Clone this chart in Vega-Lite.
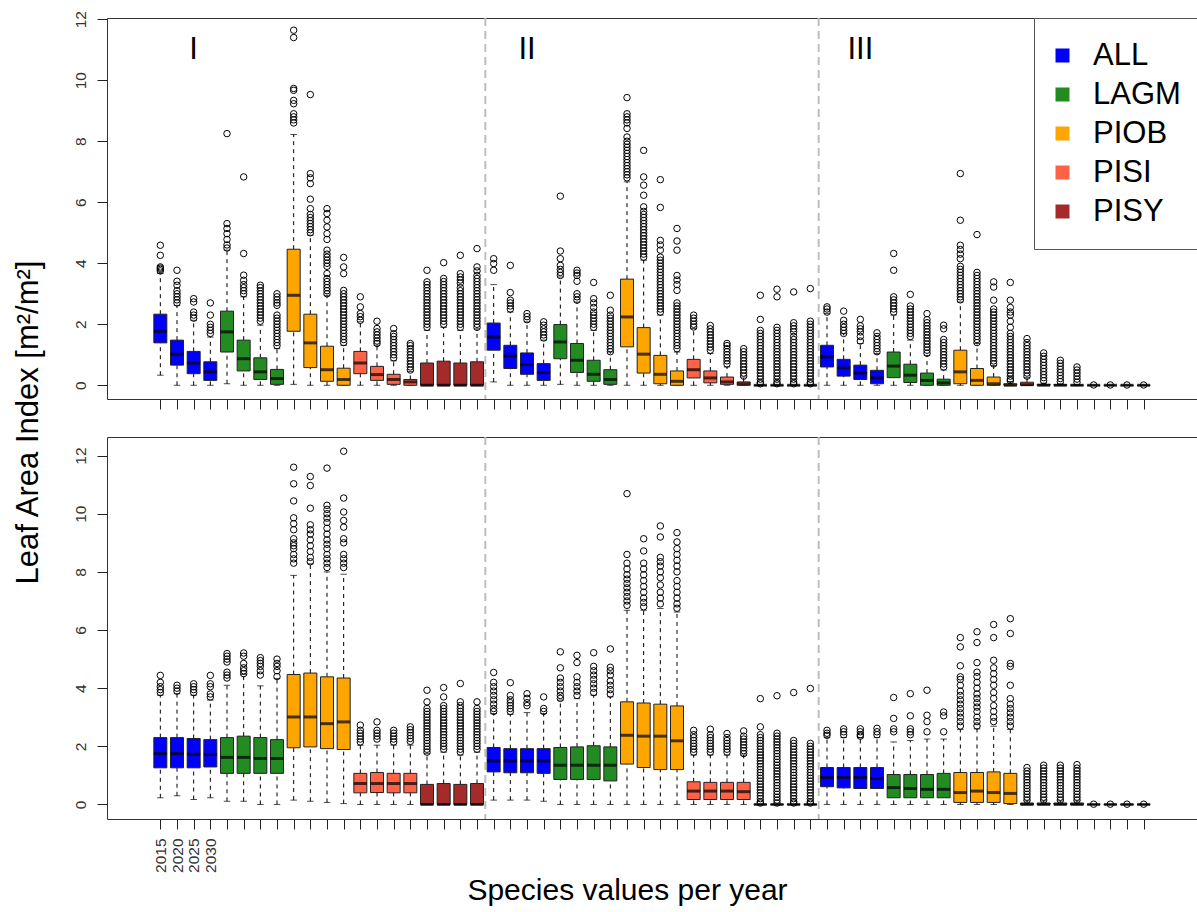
{
"$schema":"https://vega.github.io/schema/vega-lite/v6.json",
"background":"white",
"padding":{"left":11,"top":10,"right":0,"bottom":0},
"bounds":"flush",
"spacing":38,
"config":{"font":"Liberation Sans","view":{"stroke":"#333","strokeWidth":1},
"axis":{"grid":false,"domain":false,"tickColor":"#222","tickSize":10,"labelFont":"Liberation Sans","labelFontSize":15.5,"labelColor":"#333","titleFont":"Liberation Sans","titleFontWeight":"normal","titleColor":"black","labelOverlap":false,"labelFlush":false}},
"resolve":{"scale":{"x":"independent","y":"independent","color":"independent"},"legend":{"color":"independent"}},
"datasets":{
"sep":[{"i":20.5},{"i":40.5}],
"reg":[{"i":3,"y":11,"t":"I"},{"i":23,"y":11,"t":"II"},{"i":43,"y":11,"t":"III"}],
"boxT":[
{"i":1,"s":"ALL","lo":0.33,"q1":1.39,"md":1.77,"q3":2.33,"hi":3.66},
{"i":2,"s":"ALL","lo":0,"q1":0.66,"md":1.02,"q3":1.48,"hi":2.62},
{"i":3,"s":"ALL","lo":0,"q1":0.38,"md":0.73,"q3":1.11,"hi":2.13},
{"i":4,"s":"ALL","lo":0,"q1":0.16,"md":0.44,"q3":0.77,"hi":1.58},
{"i":5,"s":"LAGM","lo":0.05,"q1":1.09,"md":1.75,"q3":2.43,"hi":4.43},
{"i":6,"s":"LAGM","lo":0,"q1":0.47,"md":0.87,"q3":1.48,"hi":2.9},
{"i":7,"s":"LAGM","lo":0,"q1":0.19,"md":0.44,"q3":0.9,"hi":1.97},
{"i":8,"s":"LAGM","lo":0,"q1":0.03,"md":0.22,"q3":0.52,"hi":1.2},
{"i":9,"s":"PIOB","lo":0.03,"q1":1.77,"md":2.95,"q3":4.46,"hi":8.22},
{"i":10,"s":"PIOB","lo":0,"q1":0.58,"md":1.39,"q3":2.33,"hi":4.92},
{"i":11,"s":"PIOB","lo":0,"q1":0.13,"md":0.51,"q3":1.28,"hi":2.95},
{"i":12,"s":"PIOB","lo":0,"q1":0,"md":0.19,"q3":0.56,"hi":1.31},
{"i":13,"s":"PISI","lo":0,"q1":0.38,"md":0.73,"q3":1.11,"hi":2.08},
{"i":14,"s":"PISI","lo":0,"q1":0.16,"md":0.35,"q3":0.62,"hi":1.31},
{"i":15,"s":"PISI","lo":0,"q1":0.03,"md":0.19,"q3":0.36,"hi":0.8},
{"i":16,"s":"PISI","lo":0,"q1":0,"md":0.11,"q3":0.19,"hi":0.45},
{"i":17,"s":"PISY","lo":0,"q1":0,"md":0,"q3":0.73,"hi":1.8},
{"i":18,"s":"PISY","lo":0,"q1":0,"md":0,"q3":0.79,"hi":1.9},
{"i":19,"s":"PISY","lo":0,"q1":0,"md":0,"q3":0.73,"hi":1.8},
{"i":20,"s":"PISY","lo":0,"q1":0,"md":0,"q3":0.77,"hi":1.85},
{"i":21,"s":"ALL","lo":0.11,"q1":1.15,"md":1.58,"q3":2.04,"hi":3.3},
{"i":22,"s":"ALL","lo":0,"q1":0.55,"md":0.96,"q3":1.31,"hi":2.4},
{"i":23,"s":"ALL","lo":0,"q1":0.36,"md":0.68,"q3":1.06,"hi":2.08},
{"i":24,"s":"ALL","lo":0,"q1":0.16,"md":0.42,"q3":0.71,"hi":1.48},
{"i":25,"s":"LAGM","lo":0.03,"q1":0.87,"md":1.42,"q3":1.99,"hi":3.55},
{"i":26,"s":"LAGM","lo":0,"q1":0.42,"md":0.82,"q3":1.37,"hi":2.73},
{"i":27,"s":"LAGM","lo":0,"q1":0.13,"md":0.36,"q3":0.82,"hi":1.8},
{"i":28,"s":"LAGM","lo":0,"q1":0.03,"md":0.19,"q3":0.51,"hi":1.09},
{"i":29,"s":"PIOB","lo":0,"q1":1.26,"md":2.24,"q3":3.48,"hi":6.67},
{"i":30,"s":"PIOB","lo":0,"q1":0.4,"md":1.02,"q3":1.89,"hi":4.1},
{"i":31,"s":"PIOB","lo":0,"q1":0.05,"md":0.36,"q3":0.98,"hi":2.3},
{"i":32,"s":"PIOB","lo":0,"q1":0,"md":0.13,"q3":0.47,"hi":1.09},
{"i":33,"s":"PISI","lo":0,"q1":0.24,"md":0.51,"q3":0.85,"hi":1.86},
{"i":34,"s":"PISI","lo":0,"q1":0.08,"md":0.24,"q3":0.47,"hi":1.04},
{"i":35,"s":"PISI","lo":0,"q1":0.03,"md":0.11,"q3":0.27,"hi":0.6},
{"i":36,"s":"PISI","lo":0,"q1":0,"md":0.05,"q3":0.11,"hi":0.27},
{"i":37,"s":"PISY","lo":0,"q1":0,"md":0,"q3":0,"hi":0},
{"i":38,"s":"PISY","lo":0,"q1":0,"md":0,"q3":0,"hi":0},
{"i":39,"s":"PISY","lo":0,"q1":0,"md":0,"q3":0,"hi":0},
{"i":40,"s":"PISY","lo":0,"q1":0,"md":0,"q3":0,"hi":0},
{"i":41,"s":"ALL","lo":0,"q1":0.6,"md":0.93,"q3":1.31,"hi":2.35},
{"i":42,"s":"ALL","lo":0,"q1":0.3,"md":0.57,"q3":0.85,"hi":1.69},
{"i":43,"s":"ALL","lo":0,"q1":0.19,"md":0.4,"q3":0.66,"hi":1.37},
{"i":44,"s":"ALL","lo":0,"q1":0.05,"md":0.24,"q3":0.49,"hi":1.04},
{"i":45,"s":"LAGM","lo":0,"q1":0.25,"md":0.63,"q3":1.09,"hi":2.3},
{"i":46,"s":"LAGM","lo":0,"q1":0.09,"md":0.33,"q3":0.69,"hi":1.48},
{"i":47,"s":"LAGM","lo":0,"q1":0,"md":0.16,"q3":0.4,"hi":0.98},
{"i":48,"s":"LAGM","lo":0,"q1":0,"md":0.08,"q3":0.2,"hi":0.5},
{"i":49,"s":"PIOB","lo":0,"q1":0.05,"md":0.44,"q3":1.15,"hi":2.73},
{"i":50,"s":"PIOB","lo":0,"q1":0,"md":0.16,"q3":0.55,"hi":1.37},
{"i":51,"s":"PIOB","lo":0,"q1":0,"md":0.05,"q3":0.27,"hi":0.65},
{"i":52,"s":"PIOB","lo":0,"q1":0,"md":0,"q3":0.05,"hi":0.12},
{"i":53,"s":"PISI","lo":0,"q1":0,"md":0.02,"q3":0.1,"hi":0.25},
{"i":54,"s":"PISI","lo":0,"q1":0,"md":0,"q3":0.03,"hi":0.07},
{"i":55,"s":"PISI","lo":0,"q1":0,"md":0,"q3":0.02,"hi":0.05},
{"i":56,"s":"PISI","lo":0,"q1":0,"md":0,"q3":0.01,"hi":0.02},
{"i":57,"s":"PISY","lo":0,"q1":0,"md":0,"q3":0,"hi":0},
{"i":58,"s":"PISY","lo":0,"q1":0,"md":0,"q3":0,"hi":0},
{"i":59,"s":"PISY","lo":0,"q1":0,"md":0,"q3":0,"hi":0},
{"i":60,"s":"PISY","lo":0,"q1":0,"md":0,"q3":0,"hi":0}
],
"boxB":[
{"i":1,"s":"ALL","lo":0.23,"q1":1.26,"md":1.75,"q3":2.3,"hi":3.76},
{"i":2,"s":"ALL","lo":0.3,"q1":1.26,"md":1.75,"q3":2.3,"hi":3.81},
{"i":3,"s":"ALL","lo":0.17,"q1":1.26,"md":1.73,"q3":2.27,"hi":3.76},
{"i":4,"s":"ALL","lo":0.23,"q1":1.29,"md":1.72,"q3":2.23,"hi":3.59},
{"i":5,"s":"LAGM","lo":0.11,"q1":1.07,"md":1.62,"q3":2.3,"hi":4.1},
{"i":6,"s":"LAGM","lo":0.11,"q1":1.07,"md":1.62,"q3":2.35,"hi":4.47},
{"i":7,"s":"LAGM","lo":0,"q1":1.07,"md":1.58,"q3":2.3,"hi":4.08},
{"i":8,"s":"LAGM","lo":0,"q1":1.07,"md":1.58,"q3":2.23,"hi":4.33},
{"i":9,"s":"PIOB","lo":0.15,"q1":1.95,"md":3.01,"q3":4.47,"hi":7.88},
{"i":10,"s":"PIOB","lo":0.11,"q1":1.98,"md":3.01,"q3":4.52,"hi":8.28},
{"i":11,"s":"PIOB","lo":0.07,"q1":1.92,"md":2.78,"q3":4.39,"hi":8.0},
{"i":12,"s":"PIOB","lo":0.03,"q1":1.89,"md":2.84,"q3":4.35,"hi":7.92},
{"i":13,"s":"PISI","lo":0,"q1":0.4,"md":0.72,"q3":1.07,"hi":2.04},
{"i":14,"s":"PISI","lo":0,"q1":0.41,"md":0.72,"q3":1.1,"hi":2.04},
{"i":15,"s":"PISI","lo":0,"q1":0.4,"md":0.72,"q3":1.07,"hi":2.04},
{"i":16,"s":"PISI","lo":0,"q1":0.4,"md":0.72,"q3":1.07,"hi":2.04},
{"i":17,"s":"PISY","lo":0,"q1":0,"md":0,"q3":0.69,"hi":1.75},
{"i":18,"s":"PISY","lo":0,"q1":0,"md":0,"q3":0.72,"hi":1.8},
{"i":19,"s":"PISY","lo":0,"q1":0,"md":0,"q3":0.69,"hi":1.7},
{"i":20,"s":"PISY","lo":0,"q1":0,"md":0,"q3":0.72,"hi":1.8},
{"i":21,"s":"ALL","lo":0.15,"q1":1.12,"md":1.5,"q3":1.96,"hi":3.13},
{"i":22,"s":"ALL","lo":0.15,"q1":1.09,"md":1.5,"q3":1.92,"hi":3.1},
{"i":23,"s":"ALL","lo":0.15,"q1":1.09,"md":1.5,"q3":1.92,"hi":3.16},
{"i":24,"s":"ALL","lo":0.11,"q1":1.07,"md":1.5,"q3":1.92,"hi":3.13},
{"i":25,"s":"LAGM","lo":0,"q1":0.86,"md":1.35,"q3":1.96,"hi":3.59},
{"i":26,"s":"LAGM","lo":0,"q1":0.86,"md":1.35,"q3":1.98,"hi":3.64},
{"i":27,"s":"LAGM","lo":0,"q1":0.86,"md":1.35,"q3":2.02,"hi":3.76},
{"i":28,"s":"LAGM","lo":0,"q1":0.81,"md":1.35,"q3":1.98,"hi":3.7},
{"i":29,"s":"PIOB","lo":0,"q1":1.39,"md":2.38,"q3":3.53,"hi":6.68},
{"i":30,"s":"PIOB","lo":0,"q1":1.27,"md":2.35,"q3":3.49,"hi":6.68},
{"i":31,"s":"PIOB","lo":0,"q1":1.2,"md":2.35,"q3":3.45,"hi":6.74},
{"i":32,"s":"PIOB","lo":0,"q1":1.2,"md":2.19,"q3":3.39,"hi":6.62},
{"i":33,"s":"PISI","lo":0,"q1":0.17,"md":0.46,"q3":0.78,"hi":1.7},
{"i":34,"s":"PISI","lo":0,"q1":0.17,"md":0.46,"q3":0.76,"hi":1.7},
{"i":35,"s":"PISI","lo":0,"q1":0.17,"md":0.46,"q3":0.76,"hi":1.7},
{"i":36,"s":"PISI","lo":0,"q1":0.17,"md":0.44,"q3":0.76,"hi":1.7},
{"i":37,"s":"PISY","lo":0,"q1":0,"md":0,"q3":0,"hi":0},
{"i":38,"s":"PISY","lo":0,"q1":0,"md":0,"q3":0,"hi":0},
{"i":39,"s":"PISY","lo":0,"q1":0,"md":0,"q3":0,"hi":0},
{"i":40,"s":"PISY","lo":0,"q1":0,"md":0,"q3":0,"hi":0},
{"i":41,"s":"ALL","lo":0,"q1":0.61,"md":0.93,"q3":1.27,"hi":2.3},
{"i":42,"s":"ALL","lo":0,"q1":0.57,"md":0.93,"q3":1.27,"hi":2.3},
{"i":43,"s":"ALL","lo":0,"q1":0.55,"md":0.93,"q3":1.27,"hi":2.3},
{"i":44,"s":"ALL","lo":0,"q1":0.55,"md":0.89,"q3":1.27,"hi":2.3},
{"i":45,"s":"LAGM","lo":0,"q1":0.23,"md":0.58,"q3":1.03,"hi":2.15},
{"i":46,"s":"LAGM","lo":0,"q1":0.23,"md":0.55,"q3":1.03,"hi":2.2},
{"i":47,"s":"LAGM","lo":0,"q1":0.23,"md":0.52,"q3":1.03,"hi":2.25},
{"i":48,"s":"LAGM","lo":0,"q1":0.23,"md":0.52,"q3":1.07,"hi":2.25},
{"i":49,"s":"PIOB","lo":0,"q1":0.07,"md":0.41,"q3":1.1,"hi":2.58},
{"i":50,"s":"PIOB","lo":0,"q1":0.07,"md":0.46,"q3":1.1,"hi":2.6},
{"i":51,"s":"PIOB","lo":0,"q1":0.07,"md":0.41,"q3":1.12,"hi":2.69},
{"i":52,"s":"PIOB","lo":0,"q1":0.03,"md":0.38,"q3":1.07,"hi":2.58},
{"i":53,"s":"PISI","lo":0,"q1":0,"md":0,"q3":0.05,"hi":0.12},
{"i":54,"s":"PISI","lo":0,"q1":0,"md":0,"q3":0.05,"hi":0.12},
{"i":55,"s":"PISI","lo":0,"q1":0,"md":0,"q3":0.05,"hi":0.12},
{"i":56,"s":"PISI","lo":0,"q1":0,"md":0,"q3":0.05,"hi":0.12},
{"i":57,"s":"PISY","lo":0,"q1":0,"md":0,"q3":0,"hi":0},
{"i":58,"s":"PISY","lo":0,"q1":0,"md":0,"q3":0,"hi":0},
{"i":59,"s":"PISY","lo":0,"q1":0,"md":0,"q3":0,"hi":0},
{"i":60,"s":"PISY","lo":0,"q1":0,"md":0,"q3":0,"hi":0}
],
"outT":[
{"i":1,"v":4.59},{"i":1,"v":4.26},{"i":1,"v":3.88},{"i":1,"v":3.84},{"i":1,"v":3.8},{"i":1,"v":3.75},
{"i":2,"v":3.77},{"i":2,"v":3.41},{"i":2,"v":3.28},{"i":2,"v":3.1},{"i":2,"v":3.0},{"i":2,"v":2.9},{"i":2,"v":2.8},{"i":2,"v":2.7},
{"i":3,"v":2.84},{"i":3,"v":2.73},{"i":3,"v":2.4},{"i":3,"v":2.3},{"i":3,"v":2.2},
{"i":4,"v":2.7},{"i":4,"v":2.3},{"i":4,"v":2.0},{"i":4,"v":1.9},{"i":4,"v":1.8},{"i":4,"v":1.7},
{"i":5,"v":8.25},{"i":5,"v":5.3},{"i":5,"v":5.14},{"i":5,"v":4.97},{"i":5,"v":4.78},{"i":5,"v":4.6},{"i":5,"v":4.5},
{"i":6,"v":6.83},{"i":6,"v":4.32},{"i":6,"v":3.61},{"i":6,"v":3.44},{"i":6,"v":3.3},{"i":6,"v":3.2},{"i":6,"v":3.1},{"i":6,"v":3.0},
{"i":7,"v":3.28},{"i":7,"v":3.2},{"i":7,"v":3.1},{"i":7,"v":3.0},{"i":7,"v":2.9},{"i":7,"v":2.8},{"i":7,"v":2.7},{"i":7,"v":2.6},{"i":7,"v":2.5},{"i":7,"v":2.4},{"i":7,"v":2.3},{"i":7,"v":2.2},{"i":7,"v":2.1},
{"i":8,"v":3.0},{"i":8,"v":2.9},{"i":8,"v":2.8},{"i":8,"v":2.7},{"i":8,"v":2.62},{"i":8,"v":2.3},{"i":8,"v":2.2},{"i":8,"v":2.1},{"i":8,"v":2.0},{"i":8,"v":1.9},{"i":8,"v":1.8},{"i":8,"v":1.7},{"i":8,"v":1.6},{"i":8,"v":1.5},{"i":8,"v":1.4},{"i":8,"v":1.3},
{"i":9,"v":11.64},{"i":9,"v":11.4},{"i":9,"v":9.73},{"i":9,"v":9.67},{"i":9,"v":9.34},{"i":9,"v":9.23},{"i":9,"v":8.9},{"i":9,"v":8.8},{"i":9,"v":8.7},{"i":9,"v":8.6},
{"i":10,"v":9.53},{"i":10,"v":6.94},{"i":10,"v":6.8},{"i":10,"v":6.61},{"i":10,"v":6.1},{"i":10,"v":5.79},{"i":10,"v":5.6},{"i":10,"v":5.5},{"i":10,"v":5.4},{"i":10,"v":5.3},{"i":10,"v":5.2},{"i":10,"v":5.1},{"i":10,"v":5.0},
{"i":11,"v":5.79},{"i":11,"v":5.63},{"i":11,"v":5.41},{"i":11,"v":5.19},{"i":11,"v":4.97},{"i":11,"v":4.78},{"i":11,"v":4.43},{"i":11,"v":4.3},{"i":11,"v":4.2},{"i":11,"v":4.1},{"i":11,"v":4.0},{"i":11,"v":3.9},{"i":11,"v":3.66},{"i":11,"v":3.5},{"i":11,"v":3.4},{"i":11,"v":3.3},{"i":11,"v":3.2},{"i":11,"v":3.1},{"i":11,"v":3.0},
{"i":12,"v":4.19},{"i":12,"v":3.88},{"i":12,"v":3.66},{"i":12,"v":3.11},{"i":12,"v":3.0},{"i":12,"v":2.9},{"i":12,"v":2.8},{"i":12,"v":2.7},{"i":12,"v":2.6},{"i":12,"v":2.5},{"i":12,"v":2.4},{"i":12,"v":2.3},{"i":12,"v":2.2},{"i":12,"v":2.1},{"i":12,"v":2.0},{"i":12,"v":1.9},{"i":12,"v":1.8},{"i":12,"v":1.7},{"i":12,"v":1.6},{"i":12,"v":1.5},{"i":12,"v":1.4},
{"i":13,"v":2.9},{"i":13,"v":2.57},{"i":13,"v":2.35},{"i":13,"v":2.25},{"i":13,"v":2.13},
{"i":14,"v":2.1},{"i":14,"v":1.86},{"i":14,"v":1.75},{"i":14,"v":1.65},{"i":14,"v":1.55},{"i":14,"v":1.45},{"i":14,"v":1.37},
{"i":15,"v":1.86},{"i":15,"v":1.69},{"i":15,"v":1.6},{"i":15,"v":1.5},{"i":15,"v":1.4},{"i":15,"v":1.3},{"i":15,"v":1.2},{"i":15,"v":1.1},{"i":15,"v":1.0},{"i":15,"v":0.9},
{"i":16,"v":1.37},{"i":16,"v":1.3},{"i":16,"v":1.2},{"i":16,"v":1.1},{"i":16,"v":1.0},{"i":16,"v":0.9},{"i":16,"v":0.8},{"i":16,"v":0.7},{"i":16,"v":0.6},{"i":16,"v":0.5},
{"i":17,"v":3.77},{"i":17,"v":3.39},{"i":17,"v":3.3},{"i":17,"v":3.2},{"i":17,"v":3.1},{"i":17,"v":3.0},{"i":17,"v":2.9},{"i":17,"v":2.8},{"i":17,"v":2.7},{"i":17,"v":2.6},{"i":17,"v":2.5},{"i":17,"v":2.4},{"i":17,"v":2.3},{"i":17,"v":2.2},{"i":17,"v":2.1},{"i":17,"v":2.0},{"i":17,"v":1.9},
{"i":18,"v":4.02},{"i":18,"v":3.5},{"i":18,"v":3.4},{"i":18,"v":3.3},{"i":18,"v":3.2},{"i":18,"v":3.1},{"i":18,"v":3.0},{"i":18,"v":2.9},{"i":18,"v":2.8},{"i":18,"v":2.7},{"i":18,"v":2.6},{"i":18,"v":2.5},{"i":18,"v":2.4},{"i":18,"v":2.3},{"i":18,"v":2.2},{"i":18,"v":2.1},{"i":18,"v":2.0},
{"i":19,"v":4.26},{"i":19,"v":3.66},{"i":19,"v":3.55},{"i":19,"v":3.45},{"i":19,"v":3.35},{"i":19,"v":3.2},{"i":19,"v":3.1},{"i":19,"v":3.0},{"i":19,"v":2.9},{"i":19,"v":2.8},{"i":19,"v":2.7},{"i":19,"v":2.6},{"i":19,"v":2.5},{"i":19,"v":2.4},{"i":19,"v":2.3},{"i":19,"v":2.2},{"i":19,"v":2.1},{"i":19,"v":2.0},{"i":19,"v":1.9},
{"i":20,"v":4.48},{"i":20,"v":3.88},{"i":20,"v":3.75},{"i":20,"v":3.6},{"i":20,"v":3.5},{"i":20,"v":3.4},{"i":20,"v":3.3},{"i":20,"v":3.2},{"i":20,"v":3.1},{"i":20,"v":3.0},{"i":20,"v":2.9},{"i":20,"v":2.8},{"i":20,"v":2.7},{"i":20,"v":2.6},{"i":20,"v":2.5},{"i":20,"v":2.4},{"i":20,"v":2.3},{"i":20,"v":2.2},{"i":20,"v":2.1},{"i":20,"v":2.0},{"i":20,"v":1.9},
{"i":21,"v":4.15},{"i":21,"v":3.99},{"i":21,"v":3.77},
{"i":22,"v":3.93},{"i":22,"v":3.04},{"i":22,"v":2.79},{"i":22,"v":2.7},{"i":22,"v":2.6},{"i":22,"v":2.5},
{"i":23,"v":2.35},{"i":23,"v":2.25},{"i":23,"v":2.15},
{"i":24,"v":2.08},{"i":24,"v":1.97},{"i":24,"v":1.85},{"i":24,"v":1.75},{"i":24,"v":1.65},{"i":24,"v":1.55},
{"i":25,"v":6.2},{"i":25,"v":4.4},{"i":25,"v":4.15},{"i":25,"v":3.93},{"i":25,"v":3.8},{"i":25,"v":3.7},{"i":25,"v":3.6},
{"i":26,"v":3.77},{"i":26,"v":3.68},{"i":26,"v":3.6},{"i":26,"v":3.41},{"i":26,"v":3.0},{"i":26,"v":2.9},{"i":26,"v":2.79},
{"i":27,"v":3.37},{"i":27,"v":2.84},{"i":27,"v":2.7},{"i":27,"v":2.55},{"i":27,"v":2.4},{"i":27,"v":2.3},{"i":27,"v":2.2},{"i":27,"v":2.1},{"i":27,"v":2.0},{"i":27,"v":1.9},
{"i":28,"v":2.95},{"i":28,"v":2.46},{"i":28,"v":2.3},{"i":28,"v":2.2},{"i":28,"v":2.1},{"i":28,"v":2.0},{"i":28,"v":1.9},{"i":28,"v":1.8},{"i":28,"v":1.7},{"i":28,"v":1.6},{"i":28,"v":1.5},{"i":28,"v":1.4},{"i":28,"v":1.3},{"i":28,"v":1.2},{"i":28,"v":1.1},
{"i":29,"v":9.43},{"i":29,"v":8.9},{"i":29,"v":8.8},{"i":29,"v":8.7},{"i":29,"v":8.6},{"i":29,"v":8.42},{"i":29,"v":8.14},{"i":29,"v":8.0},{"i":29,"v":7.9},{"i":29,"v":7.8},{"i":29,"v":7.7},{"i":29,"v":7.6},{"i":29,"v":7.5},{"i":29,"v":7.4},{"i":29,"v":7.3},{"i":29,"v":7.2},{"i":29,"v":7.1},{"i":29,"v":7.0},{"i":29,"v":6.9},{"i":29,"v":6.8},
{"i":30,"v":7.7},{"i":30,"v":6.83},{"i":30,"v":6.56},{"i":30,"v":6.23},{"i":30,"v":5.85},{"i":30,"v":5.7},{"i":30,"v":5.6},{"i":30,"v":5.5},{"i":30,"v":5.4},{"i":30,"v":5.3},{"i":30,"v":5.2},{"i":30,"v":5.1},{"i":30,"v":5.0},{"i":30,"v":4.9},{"i":30,"v":4.8},{"i":30,"v":4.7},{"i":30,"v":4.6},{"i":30,"v":4.5},{"i":30,"v":4.4},{"i":30,"v":4.3},{"i":30,"v":4.2},
{"i":31,"v":6.74},{"i":31,"v":5.83},{"i":31,"v":4.75},{"i":31,"v":4.6},{"i":31,"v":4.43},{"i":31,"v":4.2},{"i":31,"v":4.1},{"i":31,"v":4.0},{"i":31,"v":3.9},{"i":31,"v":3.8},{"i":31,"v":3.7},{"i":31,"v":3.6},{"i":31,"v":3.5},{"i":31,"v":3.4},{"i":31,"v":3.3},{"i":31,"v":3.2},{"i":31,"v":3.1},{"i":31,"v":3.0},{"i":31,"v":2.9},{"i":31,"v":2.8},{"i":31,"v":2.7},{"i":31,"v":2.6},{"i":31,"v":2.5},{"i":31,"v":2.4},
{"i":32,"v":5.14},{"i":32,"v":4.73},{"i":32,"v":4.43},{"i":32,"v":3.6},{"i":32,"v":3.45},{"i":32,"v":3.3},{"i":32,"v":3.11},{"i":32,"v":2.7},{"i":32,"v":2.6},{"i":32,"v":2.5},{"i":32,"v":2.4},{"i":32,"v":2.3},{"i":32,"v":2.2},{"i":32,"v":2.1},{"i":32,"v":2.0},{"i":32,"v":1.9},{"i":32,"v":1.8},{"i":32,"v":1.7},{"i":32,"v":1.6},{"i":32,"v":1.5},{"i":32,"v":1.4},{"i":32,"v":1.3},{"i":32,"v":1.2},
{"i":33,"v":2.3},{"i":33,"v":2.2},{"i":33,"v":2.1},{"i":33,"v":2.0},{"i":33,"v":1.91},
{"i":34,"v":1.96},{"i":34,"v":1.85},{"i":34,"v":1.75},{"i":34,"v":1.65},{"i":34,"v":1.55},{"i":34,"v":1.45},{"i":34,"v":1.35},{"i":34,"v":1.25},{"i":34,"v":1.15},
{"i":35,"v":1.37},{"i":35,"v":1.3},{"i":35,"v":1.2},{"i":35,"v":1.1},{"i":35,"v":1.0},{"i":35,"v":0.9},{"i":35,"v":0.8},{"i":35,"v":0.7},
{"i":36,"v":1.2},{"i":36,"v":1.1},{"i":36,"v":1.0},{"i":36,"v":0.9},{"i":36,"v":0.8},{"i":36,"v":0.7},{"i":36,"v":0.6},{"i":36,"v":0.5},{"i":36,"v":0.4},{"i":36,"v":0.3},
{"i":37,"v":2.95},{"i":37,"v":2.16},{"i":37,"v":1.8},{"i":37,"v":1.7},{"i":37,"v":1.6},{"i":37,"v":1.5},{"i":37,"v":1.4},{"i":37,"v":1.3},{"i":37,"v":1.2},{"i":37,"v":1.1},{"i":37,"v":1.0},{"i":37,"v":0.9},{"i":37,"v":0.8},{"i":37,"v":0.7},{"i":37,"v":0.6},{"i":37,"v":0.5},{"i":37,"v":0.4},{"i":37,"v":0.3},{"i":37,"v":0.2},{"i":37,"v":0.1},{"i":37,"v":0.05},
{"i":38,"v":3.15},{"i":38,"v":2.9},{"i":38,"v":1.9},{"i":38,"v":1.8},{"i":38,"v":1.7},{"i":38,"v":1.6},{"i":38,"v":1.5},{"i":38,"v":1.4},{"i":38,"v":1.3},{"i":38,"v":1.2},{"i":38,"v":1.1},{"i":38,"v":1.0},{"i":38,"v":0.9},{"i":38,"v":0.8},{"i":38,"v":0.7},{"i":38,"v":0.6},{"i":38,"v":0.5},{"i":38,"v":0.4},{"i":38,"v":0.3},{"i":38,"v":0.2},{"i":38,"v":0.1},{"i":38,"v":0.05},
{"i":39,"v":3.06},{"i":39,"v":2.05},{"i":39,"v":1.95},{"i":39,"v":1.85},{"i":39,"v":1.75},{"i":39,"v":1.6},{"i":39,"v":1.5},{"i":39,"v":1.4},{"i":39,"v":1.3},{"i":39,"v":1.2},{"i":39,"v":1.1},{"i":39,"v":1.0},{"i":39,"v":0.9},{"i":39,"v":0.8},{"i":39,"v":0.7},{"i":39,"v":0.6},{"i":39,"v":0.5},{"i":39,"v":0.4},{"i":39,"v":0.3},{"i":39,"v":0.2},{"i":39,"v":0.1},{"i":39,"v":0.05},
{"i":40,"v":3.17},{"i":40,"v":2.1},{"i":40,"v":2.0},{"i":40,"v":1.9},{"i":40,"v":1.8},{"i":40,"v":1.7},{"i":40,"v":1.6},{"i":40,"v":1.5},{"i":40,"v":1.4},{"i":40,"v":1.3},{"i":40,"v":1.2},{"i":40,"v":1.1},{"i":40,"v":1.0},{"i":40,"v":0.9},{"i":40,"v":0.8},{"i":40,"v":0.7},{"i":40,"v":0.6},{"i":40,"v":0.5},{"i":40,"v":0.4},{"i":40,"v":0.3},{"i":40,"v":0.2},{"i":40,"v":0.1},{"i":40,"v":0.05},
{"i":41,"v":2.57},{"i":41,"v":2.5},{"i":41,"v":2.4},
{"i":42,"v":2.43},{"i":42,"v":2.13},{"i":42,"v":2.0},{"i":42,"v":1.9},{"i":42,"v":1.8},{"i":42,"v":1.7},
{"i":43,"v":2.16},{"i":43,"v":1.95},{"i":43,"v":1.85},{"i":43,"v":1.75},{"i":43,"v":1.6},{"i":43,"v":1.45},
{"i":44,"v":1.72},{"i":44,"v":1.6},{"i":44,"v":1.5},{"i":44,"v":1.4},{"i":44,"v":1.3},{"i":44,"v":1.2},{"i":44,"v":1.1},
{"i":45,"v":4.32},{"i":45,"v":3.77},{"i":45,"v":2.9},{"i":45,"v":2.8},{"i":45,"v":2.7},{"i":45,"v":2.6},{"i":45,"v":2.5},{"i":45,"v":2.4},
{"i":46,"v":2.98},{"i":46,"v":2.6},{"i":46,"v":2.5},{"i":46,"v":2.4},{"i":46,"v":2.3},{"i":46,"v":2.2},{"i":46,"v":2.1},{"i":46,"v":2.0},{"i":46,"v":1.9},{"i":46,"v":1.8},{"i":46,"v":1.7},{"i":46,"v":1.6},
{"i":47,"v":2.35},{"i":47,"v":2.15},{"i":47,"v":2.05},{"i":47,"v":1.95},{"i":47,"v":1.85},{"i":47,"v":1.75},{"i":47,"v":1.65},{"i":47,"v":1.55},{"i":47,"v":1.45},{"i":47,"v":1.35},{"i":47,"v":1.25},{"i":47,"v":1.15},{"i":47,"v":1.05},
{"i":48,"v":1.97},{"i":48,"v":1.85},{"i":48,"v":1.5},{"i":48,"v":1.4},{"i":48,"v":1.3},{"i":48,"v":1.2},{"i":48,"v":1.1},{"i":48,"v":1.0},{"i":48,"v":0.9},{"i":48,"v":0.8},{"i":48,"v":0.7},{"i":48,"v":0.6},
{"i":49,"v":6.94},{"i":49,"v":5.41},{"i":49,"v":4.59},{"i":49,"v":4.45},{"i":49,"v":4.3},{"i":49,"v":4.15},{"i":49,"v":3.9},{"i":49,"v":3.8},{"i":49,"v":3.7},{"i":49,"v":3.6},{"i":49,"v":3.5},{"i":49,"v":3.4},{"i":49,"v":3.3},{"i":49,"v":3.2},{"i":49,"v":3.1},{"i":49,"v":3.0},{"i":49,"v":2.9},{"i":49,"v":2.8},
{"i":50,"v":4.94},{"i":50,"v":3.7},{"i":50,"v":3.6},{"i":50,"v":3.5},{"i":50,"v":3.4},{"i":50,"v":3.3},{"i":50,"v":3.2},{"i":50,"v":3.1},{"i":50,"v":3.0},{"i":50,"v":2.9},{"i":50,"v":2.8},{"i":50,"v":2.7},{"i":50,"v":2.6},{"i":50,"v":2.5},{"i":50,"v":2.4},{"i":50,"v":2.3},{"i":50,"v":2.2},{"i":50,"v":2.1},{"i":50,"v":2.0},{"i":50,"v":1.9},{"i":50,"v":1.8},{"i":50,"v":1.7},{"i":50,"v":1.6},{"i":50,"v":1.5},{"i":50,"v":1.4},
{"i":51,"v":3.39},{"i":51,"v":3.22},{"i":51,"v":2.79},{"i":51,"v":2.5},{"i":51,"v":2.4},{"i":51,"v":2.3},{"i":51,"v":2.2},{"i":51,"v":2.1},{"i":51,"v":2.0},{"i":51,"v":1.9},{"i":51,"v":1.8},{"i":51,"v":1.7},{"i":51,"v":1.6},{"i":51,"v":1.5},{"i":51,"v":1.4},{"i":51,"v":1.3},{"i":51,"v":1.2},{"i":51,"v":1.1},{"i":51,"v":1.0},{"i":51,"v":0.9},{"i":51,"v":0.8},{"i":51,"v":0.7},
{"i":52,"v":3.37},{"i":52,"v":2.79},{"i":52,"v":2.55},{"i":52,"v":2.4},{"i":52,"v":2.3},{"i":52,"v":2.1},{"i":52,"v":1.9},{"i":52,"v":1.7},{"i":52,"v":1.6},{"i":52,"v":1.5},{"i":52,"v":1.4},{"i":52,"v":1.3},{"i":52,"v":1.2},{"i":52,"v":1.1},{"i":52,"v":1.0},{"i":52,"v":0.9},{"i":52,"v":0.8},{"i":52,"v":0.7},{"i":52,"v":0.6},{"i":52,"v":0.5},{"i":52,"v":0.4},{"i":52,"v":0.3},{"i":52,"v":0.2},{"i":52,"v":0.15},
{"i":53,"v":1.53},{"i":53,"v":1.4},{"i":53,"v":1.3},{"i":53,"v":1.2},{"i":53,"v":1.1},{"i":53,"v":1.0},{"i":53,"v":0.9},{"i":53,"v":0.8},{"i":53,"v":0.7},{"i":53,"v":0.6},{"i":53,"v":0.5},{"i":53,"v":0.4},{"i":53,"v":0.3},
{"i":54,"v":1.06},{"i":54,"v":0.95},{"i":54,"v":0.85},{"i":54,"v":0.75},{"i":54,"v":0.65},{"i":54,"v":0.55},{"i":54,"v":0.45},{"i":54,"v":0.35},{"i":54,"v":0.25},{"i":54,"v":0.15},
{"i":55,"v":0.82},{"i":55,"v":0.72},{"i":55,"v":0.62},{"i":55,"v":0.52},{"i":55,"v":0.42},{"i":55,"v":0.32},{"i":55,"v":0.22},{"i":55,"v":0.12},
{"i":56,"v":0.6},{"i":56,"v":0.5},{"i":56,"v":0.4},{"i":56,"v":0.3},{"i":56,"v":0.2},{"i":56,"v":0.1},
{"i":57,"v":0.01},{"i":58,"v":0.01},{"i":59,"v":0.01},{"i":60,"v":0.01}
],
"outB":[
{"i":1,"v":4.44},{"i":1,"v":4.2},{"i":1,"v":4.05},{"i":1,"v":3.95},{"i":1,"v":3.85},
{"i":2,"v":4.1},{"i":2,"v":4.0},{"i":2,"v":3.9},
{"i":3,"v":4.15},{"i":3,"v":4.05},{"i":3,"v":3.95},{"i":3,"v":3.85},
{"i":4,"v":4.44},{"i":4,"v":4.15},{"i":4,"v":4.05},{"i":4,"v":3.8},{"i":4,"v":3.7},
{"i":5,"v":5.19},{"i":5,"v":5.1},{"i":5,"v":5.0},{"i":5,"v":4.9},{"i":5,"v":4.55},{"i":5,"v":4.45},{"i":5,"v":4.35},
{"i":6,"v":5.21},{"i":6,"v":5.1},{"i":6,"v":4.85},{"i":6,"v":4.7},{"i":6,"v":4.6},{"i":6,"v":4.5},
{"i":7,"v":5.05},{"i":7,"v":4.95},{"i":7,"v":4.85},{"i":7,"v":4.75},{"i":7,"v":4.6},{"i":7,"v":4.45},
{"i":8,"v":5.0},{"i":8,"v":4.85},{"i":8,"v":4.75},{"i":8,"v":4.6},{"i":8,"v":4.4},
{"i":9,"v":11.6},{"i":9,"v":11.03},{"i":9,"v":10.44},{"i":9,"v":9.86},{"i":9,"v":9.66},{"i":9,"v":9.45},{"i":9,"v":9.14},{"i":9,"v":9.0},{"i":9,"v":8.9},{"i":9,"v":8.8},{"i":9,"v":8.6},{"i":9,"v":8.45},{"i":9,"v":8.3},
{"i":10,"v":11.28},{"i":10,"v":10.97},{"i":10,"v":10.19},{"i":10,"v":9.62},{"i":10,"v":9.45},{"i":10,"v":9.3},{"i":10,"v":9.1},{"i":10,"v":8.9},{"i":10,"v":8.7},{"i":10,"v":8.5},{"i":10,"v":8.35},
{"i":11,"v":11.57},{"i":11,"v":10.29},{"i":11,"v":10.15},{"i":11,"v":10.0},{"i":11,"v":9.85},{"i":11,"v":9.7},{"i":11,"v":9.5},{"i":11,"v":9.3},{"i":11,"v":9.1},{"i":11,"v":8.95},{"i":11,"v":8.8},{"i":11,"v":8.6},{"i":11,"v":8.45},{"i":11,"v":8.3},{"i":11,"v":8.15},
{"i":12,"v":12.15},{"i":12,"v":10.54},{"i":12,"v":10.06},{"i":12,"v":9.77},{"i":12,"v":9.54},{"i":12,"v":9.14},{"i":12,"v":9.0},{"i":12,"v":8.6},{"i":12,"v":8.45},{"i":12,"v":8.3},{"i":12,"v":8.15},
{"i":13,"v":2.73},{"i":13,"v":2.55},{"i":13,"v":2.45},{"i":13,"v":2.35},{"i":13,"v":2.25},{"i":13,"v":2.15},
{"i":14,"v":2.84},{"i":14,"v":2.55},{"i":14,"v":2.45},{"i":14,"v":2.35},{"i":14,"v":2.25},
{"i":15,"v":2.55},{"i":15,"v":2.45},{"i":15,"v":2.35},{"i":15,"v":2.25},{"i":15,"v":2.15},
{"i":16,"v":2.67},{"i":16,"v":2.57},{"i":16,"v":2.47},{"i":16,"v":2.37},{"i":16,"v":2.27},{"i":16,"v":2.17},
{"i":17,"v":3.93},{"i":17,"v":3.53},{"i":17,"v":3.3},{"i":17,"v":3.2},{"i":17,"v":3.1},{"i":17,"v":3.0},{"i":17,"v":2.9},{"i":17,"v":2.8},{"i":17,"v":2.7},{"i":17,"v":2.6},{"i":17,"v":2.5},{"i":17,"v":2.4},{"i":17,"v":2.3},{"i":17,"v":2.2},{"i":17,"v":2.1},{"i":17,"v":2.0},{"i":17,"v":1.9},{"i":17,"v":1.8},
{"i":18,"v":4.02},{"i":18,"v":3.7},{"i":18,"v":3.4},{"i":18,"v":3.3},{"i":18,"v":3.2},{"i":18,"v":3.1},{"i":18,"v":3.0},{"i":18,"v":2.9},{"i":18,"v":2.8},{"i":18,"v":2.7},{"i":18,"v":2.6},{"i":18,"v":2.5},{"i":18,"v":2.4},{"i":18,"v":2.3},{"i":18,"v":2.2},{"i":18,"v":2.1},{"i":18,"v":2.0},{"i":18,"v":1.9},
{"i":19,"v":4.16},{"i":19,"v":3.53},{"i":19,"v":3.4},{"i":19,"v":3.3},{"i":19,"v":3.2},{"i":19,"v":3.1},{"i":19,"v":3.0},{"i":19,"v":2.9},{"i":19,"v":2.8},{"i":19,"v":2.7},{"i":19,"v":2.6},{"i":19,"v":2.5},{"i":19,"v":2.4},{"i":19,"v":2.3},{"i":19,"v":2.2},{"i":19,"v":2.1},{"i":19,"v":2.0},{"i":19,"v":1.9},{"i":19,"v":1.8},
{"i":20,"v":3.53},{"i":20,"v":3.3},{"i":20,"v":3.2},{"i":20,"v":3.1},{"i":20,"v":3.0},{"i":20,"v":2.9},{"i":20,"v":2.8},{"i":20,"v":2.7},{"i":20,"v":2.6},{"i":20,"v":2.5},{"i":20,"v":2.4},{"i":20,"v":2.3},{"i":20,"v":2.2},{"i":20,"v":2.1},{"i":20,"v":2.0},{"i":20,"v":1.9},
{"i":21,"v":4.54},{"i":21,"v":4.2},{"i":21,"v":4.05},{"i":21,"v":3.9},{"i":21,"v":3.75},{"i":21,"v":3.6},{"i":21,"v":3.45},{"i":21,"v":3.3},{"i":21,"v":3.2},
{"i":22,"v":4.19},{"i":22,"v":3.75},{"i":22,"v":3.6},{"i":22,"v":3.5},{"i":22,"v":3.4},{"i":22,"v":3.3},{"i":22,"v":3.2},
{"i":23,"v":3.81},{"i":23,"v":3.65},{"i":23,"v":3.5},{"i":23,"v":3.4},
{"i":24,"v":3.7},{"i":24,"v":3.3},{"i":24,"v":3.2},
{"i":25,"v":5.25},{"i":25,"v":4.7},{"i":25,"v":4.35},{"i":25,"v":4.2},{"i":25,"v":4.05},{"i":25,"v":3.9},{"i":25,"v":3.75},{"i":25,"v":3.65},
{"i":26,"v":5.13},{"i":26,"v":4.88},{"i":26,"v":4.39},{"i":26,"v":4.2},{"i":26,"v":4.05},{"i":26,"v":3.9},{"i":26,"v":3.75},
{"i":27,"v":5.22},{"i":27,"v":4.75},{"i":27,"v":4.6},{"i":27,"v":4.45},{"i":27,"v":4.3},{"i":27,"v":4.15},{"i":27,"v":4.0},{"i":27,"v":3.85},
{"i":28,"v":5.35},{"i":28,"v":4.72},{"i":28,"v":4.6},{"i":28,"v":4.45},{"i":28,"v":4.25},{"i":28,"v":4.1},{"i":28,"v":3.95},{"i":28,"v":3.8},
{"i":29,"v":10.69},{"i":29,"v":8.6},{"i":29,"v":8.3},{"i":29,"v":8.1},{"i":29,"v":7.9},{"i":29,"v":7.75},{"i":29,"v":7.6},{"i":29,"v":7.45},{"i":29,"v":7.3},{"i":29,"v":7.15},{"i":29,"v":7.0},{"i":29,"v":6.85},
{"i":30,"v":9.14},{"i":30,"v":8.72},{"i":30,"v":8.3},{"i":30,"v":8.1},{"i":30,"v":7.9},{"i":30,"v":7.7},{"i":30,"v":7.5},{"i":30,"v":7.3},{"i":30,"v":7.1},{"i":30,"v":6.95},{"i":30,"v":6.8},
{"i":31,"v":9.58},{"i":31,"v":9.2},{"i":31,"v":8.5},{"i":31,"v":8.35},{"i":31,"v":8.2},{"i":31,"v":8.0},{"i":31,"v":7.8},{"i":31,"v":7.55},{"i":31,"v":7.3},{"i":31,"v":7.1},{"i":31,"v":6.9},
{"i":32,"v":9.35},{"i":32,"v":9.03},{"i":32,"v":8.8},{"i":32,"v":8.6},{"i":32,"v":8.4},{"i":32,"v":8.2},{"i":32,"v":8.0},{"i":32,"v":7.7},{"i":32,"v":7.5},{"i":32,"v":7.3},{"i":32,"v":7.1},{"i":32,"v":6.9},{"i":32,"v":6.75},
{"i":33,"v":2.55},{"i":33,"v":2.4},{"i":33,"v":2.3},{"i":33,"v":2.2},{"i":33,"v":2.1},{"i":33,"v":2.0},{"i":33,"v":1.9},{"i":33,"v":1.8},
{"i":34,"v":2.59},{"i":34,"v":2.4},{"i":34,"v":2.3},{"i":34,"v":2.2},{"i":34,"v":2.1},{"i":34,"v":2.0},{"i":34,"v":1.9},{"i":34,"v":1.8},
{"i":35,"v":2.44},{"i":35,"v":2.3},{"i":35,"v":2.2},{"i":35,"v":2.1},{"i":35,"v":2.0},{"i":35,"v":1.9},{"i":35,"v":1.8},
{"i":36,"v":2.53},{"i":36,"v":2.35},{"i":36,"v":2.25},{"i":36,"v":2.15},{"i":36,"v":2.05},{"i":36,"v":1.95},{"i":36,"v":1.85},{"i":36,"v":1.75},
{"i":37,"v":3.64},{"i":37,"v":2.67},{"i":37,"v":2.4},{"i":37,"v":2.3},{"i":37,"v":2.2},{"i":37,"v":2.1},{"i":37,"v":2.0},{"i":37,"v":1.9},{"i":37,"v":1.8},{"i":37,"v":1.7},{"i":37,"v":1.6},{"i":37,"v":1.5},{"i":37,"v":1.4},{"i":37,"v":1.3},{"i":37,"v":1.2},{"i":37,"v":1.1},{"i":37,"v":1.0},{"i":37,"v":0.9},{"i":37,"v":0.8},{"i":37,"v":0.7},{"i":37,"v":0.6},{"i":37,"v":0.5},{"i":37,"v":0.4},{"i":37,"v":0.3},{"i":37,"v":0.2},{"i":37,"v":0.1},{"i":37,"v":0.05},
{"i":38,"v":3.74},{"i":38,"v":2.45},{"i":38,"v":2.35},{"i":38,"v":2.25},{"i":38,"v":2.15},{"i":38,"v":2.05},{"i":38,"v":1.95},{"i":38,"v":1.85},{"i":38,"v":1.75},{"i":38,"v":1.65},{"i":38,"v":1.55},{"i":38,"v":1.45},{"i":38,"v":1.35},{"i":38,"v":1.25},{"i":38,"v":1.15},{"i":38,"v":1.05},{"i":38,"v":0.95},{"i":38,"v":0.85},{"i":38,"v":0.75},{"i":38,"v":0.65},{"i":38,"v":0.55},{"i":38,"v":0.45},{"i":38,"v":0.35},{"i":38,"v":0.25},{"i":38,"v":0.15},{"i":38,"v":0.05},
{"i":39,"v":3.85},{"i":39,"v":2.2},{"i":39,"v":2.1},{"i":39,"v":2.0},{"i":39,"v":1.9},{"i":39,"v":1.8},{"i":39,"v":1.7},{"i":39,"v":1.6},{"i":39,"v":1.5},{"i":39,"v":1.4},{"i":39,"v":1.3},{"i":39,"v":1.2},{"i":39,"v":1.1},{"i":39,"v":1.0},{"i":39,"v":0.9},{"i":39,"v":0.8},{"i":39,"v":0.7},{"i":39,"v":0.6},{"i":39,"v":0.5},{"i":39,"v":0.4},{"i":39,"v":0.3},{"i":39,"v":0.2},{"i":39,"v":0.1},{"i":39,"v":0.05},
{"i":40,"v":3.99},{"i":40,"v":2.1},{"i":40,"v":2.0},{"i":40,"v":1.9},{"i":40,"v":1.8},{"i":40,"v":1.7},{"i":40,"v":1.6},{"i":40,"v":1.5},{"i":40,"v":1.4},{"i":40,"v":1.3},{"i":40,"v":1.2},{"i":40,"v":1.1},{"i":40,"v":1.0},{"i":40,"v":0.9},{"i":40,"v":0.8},{"i":40,"v":0.7},{"i":40,"v":0.6},{"i":40,"v":0.5},{"i":40,"v":0.4},{"i":40,"v":0.3},{"i":40,"v":0.2},{"i":40,"v":0.1},{"i":40,"v":0.05},
{"i":41,"v":2.55},{"i":41,"v":2.45},{"i":41,"v":2.38},
{"i":42,"v":2.6},{"i":42,"v":2.5},{"i":42,"v":2.4},
{"i":43,"v":2.6},{"i":43,"v":2.5},{"i":43,"v":2.4},{"i":43,"v":2.35},
{"i":44,"v":2.62},{"i":44,"v":2.5},{"i":44,"v":2.4},
{"i":45,"v":3.68},{"i":45,"v":2.96},{"i":45,"v":2.6},{"i":45,"v":2.5},
{"i":46,"v":3.81},{"i":46,"v":3.05},{"i":46,"v":2.6},{"i":46,"v":2.5},{"i":46,"v":2.4},
{"i":47,"v":3.93},{"i":47,"v":3.07},{"i":47,"v":2.85},{"i":47,"v":2.5},
{"i":48,"v":3.18},{"i":48,"v":3.05},{"i":48,"v":2.5},
{"i":49,"v":5.74},{"i":49,"v":5.42},{"i":49,"v":4.77},{"i":49,"v":4.39},{"i":49,"v":4.3},{"i":49,"v":4.1},{"i":49,"v":3.9},{"i":49,"v":3.75},{"i":49,"v":3.6},{"i":49,"v":3.45},{"i":49,"v":3.3},{"i":49,"v":3.15},{"i":49,"v":3.0},{"i":49,"v":2.85},{"i":49,"v":2.7},
{"i":50,"v":5.94},{"i":50,"v":5.57},{"i":50,"v":4.88},{"i":50,"v":4.55},{"i":50,"v":4.4},{"i":50,"v":4.2},{"i":50,"v":4.0},{"i":50,"v":3.8},{"i":50,"v":3.65},{"i":50,"v":3.5},{"i":50,"v":3.35},{"i":50,"v":3.2},{"i":50,"v":3.0},{"i":50,"v":2.85},{"i":50,"v":2.7},
{"i":51,"v":6.19},{"i":51,"v":5.74},{"i":51,"v":4.96},{"i":51,"v":4.7},{"i":51,"v":4.5},{"i":51,"v":4.3},{"i":51,"v":4.1},{"i":51,"v":3.85},{"i":51,"v":3.65},{"i":51,"v":3.4},{"i":51,"v":3.2},{"i":51,"v":3.0},{"i":51,"v":2.85},
{"i":52,"v":6.39},{"i":52,"v":5.88},{"i":52,"v":4.85},{"i":52,"v":4.75},{"i":52,"v":4.1},{"i":52,"v":3.64},{"i":52,"v":3.45},{"i":52,"v":3.3},{"i":52,"v":3.15},{"i":52,"v":3.0},{"i":52,"v":2.85},{"i":52,"v":2.7},
{"i":53,"v":1.27},{"i":53,"v":1.15},{"i":53,"v":1.05},{"i":53,"v":0.95},{"i":53,"v":0.85},{"i":53,"v":0.75},{"i":53,"v":0.65},{"i":53,"v":0.55},{"i":53,"v":0.45},{"i":53,"v":0.35},{"i":53,"v":0.25},{"i":53,"v":0.15},
{"i":54,"v":1.35},{"i":54,"v":1.25},{"i":54,"v":1.15},{"i":54,"v":1.05},{"i":54,"v":0.95},{"i":54,"v":0.85},{"i":54,"v":0.75},{"i":54,"v":0.65},{"i":54,"v":0.55},{"i":54,"v":0.45},{"i":54,"v":0.35},{"i":54,"v":0.25},{"i":54,"v":0.15},
{"i":55,"v":1.35},{"i":55,"v":1.25},{"i":55,"v":1.15},{"i":55,"v":1.05},{"i":55,"v":0.95},{"i":55,"v":0.85},{"i":55,"v":0.75},{"i":55,"v":0.65},{"i":55,"v":0.55},{"i":55,"v":0.45},{"i":55,"v":0.35},{"i":55,"v":0.25},{"i":55,"v":0.15},
{"i":56,"v":1.37},{"i":56,"v":1.25},{"i":56,"v":1.15},{"i":56,"v":1.05},{"i":56,"v":0.95},{"i":56,"v":0.85},{"i":56,"v":0.75},{"i":56,"v":0.65},{"i":56,"v":0.55},{"i":56,"v":0.45},{"i":56,"v":0.35},{"i":56,"v":0.25},{"i":56,"v":0.15},
{"i":57,"v":0.01},{"i":58,"v":0.01},{"i":59,"v":0.01},{"i":60,"v":0.01}
]
},
"vconcat":[
{
"width":1090,"height":381,
"encoding":{"x":{"field":"i","type":"quantitative","scale":{"domain":[-1.9,62.9],"nice":false,"zero":false},
"axis":{"values":[1,2,3,4,5,6,7,8,9,10,11,12,13,14,15,16,17,18,19,20,21,22,23,24,25,26,27,28,29,30,31,32,33,34,35,36,37,38,39,40,41,42,43,44,45,46,47,48,49,50,51,52,53,54,55,56,57,58,59,60],"labels":false,"title":null,"tickSize":10}}},
"layer":[
{"data":{"name":"sep"},"mark":{"type":"rule","color":"#BEBEBE","strokeWidth":2,"strokeDash":[8,5]},"encoding":{}},
{"data":{"name":"boxT"},"mark":{"type":"rule","color":"black","strokeWidth":1,"strokeDash":[4,4]},
"encoding":{"y":{"field":"q3","type":"quantitative","scale":{"domain":[-0.45,12.04],"nice":false,"zero":false},
"axis":{"values":[0,2,4,6,8,10,12],"labelAngle":-90,"labelAlign":"center","labelBaseline":"alphabetic","labelPadding":12,"tickSize":10,"title":"Leaf Area Index [m²/m²]","titleFontSize":31,"titleX":-70,"titleY":404,"titleAngle":-90,"titleAlign":"center","titleBaseline":"alphabetic"}},"y2":{"field":"hi"}}},
{"data":{"name":"boxT"},"mark":{"type":"rule","color":"black","strokeWidth":1,"strokeDash":[4,4]},
"encoding":{"y":{"field":"lo","type":"quantitative","scale":{"domain":[-0.45,12.04],"nice":false,"zero":false},
"axis":{"values":[0,2,4,6,8,10,12],"labelAngle":-90,"labelAlign":"center","labelBaseline":"alphabetic","labelPadding":12,"tickSize":10,"title":"Leaf Area Index [m²/m²]","titleFontSize":31,"titleX":-70,"titleY":404,"titleAngle":-90,"titleAlign":"center","titleBaseline":"alphabetic"}},"y2":{"field":"q1"}}},
{"data":{"name":"boxT"},"mark":{"type":"tick","orient":"horizontal","size":6.5,"thickness":1,"color":"black"},
"encoding":{"y":{"field":"lo","type":"quantitative","scale":{"domain":[-0.45,12.04],"nice":false,"zero":false},
"axis":{"values":[0,2,4,6,8,10,12],"labelAngle":-90,"labelAlign":"center","labelBaseline":"alphabetic","labelPadding":12,"tickSize":10,"title":"Leaf Area Index [m²/m²]","titleFontSize":31,"titleX":-70,"titleY":404,"titleAngle":-90,"titleAlign":"center","titleBaseline":"alphabetic"}}}},
{"data":{"name":"boxT"},"mark":{"type":"tick","orient":"horizontal","size":6.5,"thickness":1,"color":"black"},
"encoding":{"y":{"field":"hi","type":"quantitative","scale":{"domain":[-0.45,12.04],"nice":false,"zero":false},
"axis":{"values":[0,2,4,6,8,10,12],"labelAngle":-90,"labelAlign":"center","labelBaseline":"alphabetic","labelPadding":12,"tickSize":10,"title":"Leaf Area Index [m²/m²]","titleFontSize":31,"titleX":-70,"titleY":404,"titleAngle":-90,"titleAlign":"center","titleBaseline":"alphabetic"}}}},
{"data":{"name":"boxT"},"mark":{"type":"bar","size":13,"stroke":"#222","strokeWidth":1},
"encoding":{"y":{"field":"q1","type":"quantitative","scale":{"domain":[-0.45,12.04],"nice":false,"zero":false},
"axis":{"values":[0,2,4,6,8,10,12],"labelAngle":-90,"labelAlign":"center","labelBaseline":"alphabetic","labelPadding":12,"tickSize":10,"title":"Leaf Area Index [m²/m²]","titleFontSize":31,"titleX":-70,"titleY":404,"titleAngle":-90,"titleAlign":"center","titleBaseline":"alphabetic"}},
"y2":{"field":"q3"},
"color":{"field":"s","type":"nominal","scale":{"domain":["ALL","LAGM","PIOB","PISI","PISY"],"range":["#0000FF","#228B22","#FFA500","#FF6347","#A52A2A"]},
"legend":{"orient":"none","legendX":927,"legendY":0,"direction":"vertical","title":null,"symbolType":"square","symbolSize":196,"symbolOffset":-9,"symbolStrokeWidth":0,"symbolStrokeColor":"transparent","symbolOpacity":1,"labelFontSize":31,"labelFont":"Liberation Sans","labelColor":"black","labelOffset":15,"rowPadding":7,"padding":22,"strokeColor":"#555","fillColor":"white"}}}},
{"data":{"name":"boxT"},"mark":{"type":"tick","orient":"horizontal","size":13,"thickness":3,"color":"black"},
"encoding":{"y":{"field":"md","type":"quantitative","scale":{"domain":[-0.45,12.04],"nice":false,"zero":false},
"axis":{"values":[0,2,4,6,8,10,12],"labelAngle":-90,"labelAlign":"center","labelBaseline":"alphabetic","labelPadding":12,"tickSize":10,"title":"Leaf Area Index [m²/m²]","titleFontSize":31,"titleX":-70,"titleY":404,"titleAngle":-90,"titleAlign":"center","titleBaseline":"alphabetic"}}}},
{"data":{"name":"outT"},"mark":{"type":"point","shape":"circle","filled":false,"size":42,"stroke":"black","strokeWidth":1,"opacity":1},
"encoding":{"y":{"field":"v","type":"quantitative","scale":{"domain":[-0.45,12.04],"nice":false,"zero":false},
"axis":{"values":[0,2,4,6,8,10,12],"labelAngle":-90,"labelAlign":"center","labelBaseline":"alphabetic","labelPadding":12,"tickSize":10,"title":"Leaf Area Index [m²/m²]","titleFontSize":31,"titleX":-70,"titleY":404,"titleAngle":-90,"titleAlign":"center","titleBaseline":"alphabetic"}}}},
{"data":{"name":"reg"},"mark":{"type":"text","fontSize":31,"font":"Liberation Sans","color":"black","align":"center","baseline":"middle"},
"encoding":{"y":{"field":"y","type":"quantitative","scale":{"domain":[-0.45,12.04],"nice":false,"zero":false},
"axis":{"values":[0,2,4,6,8,10,12],"labelAngle":-90,"labelAlign":"center","labelBaseline":"alphabetic","labelPadding":12,"tickSize":10,"title":"Leaf Area Index [m²/m²]","titleFontSize":31,"titleX":-70,"titleY":404,"titleAngle":-90,"titleAlign":"center","titleBaseline":"alphabetic"}},"text":{"field":"t"}}}
]
},
{
"width":1090,"height":382,
"encoding":{"x":{"field":"i","type":"quantitative","scale":{"domain":[-1.9,62.9],"nice":false,"zero":false},
"axis":{"values":[1,2,3,4,5,6,7,8,9,10,11,12,13,14,15,16,17,18,19,20,21,22,23,24,25,26,27,28,29,30,31,32,33,34,35,36,37,38,39,40,41,42,43,44,45,46,47,48,49,50,51,52,53,54,55,56,57,58,59,60],
"labelExpr":"datum.value==1?'2015':datum.value==2?'2020':datum.value==3?'2025':datum.value==4?'2030':''",
"labelAngle":-90,"labelAlign":"right","labelBaseline":"middle","labelPadding":9,"tickSize":10,
"title":"Species values per year","titleFontSize":30,"titleX":520,"titleY":80,"titleAlign":"center","titleBaseline":"alphabetic"}}},
"layer":[
{"data":{"name":"sep"},"mark":{"type":"rule","color":"#BEBEBE","strokeWidth":2,"strokeDash":[8,5]},"encoding":{}},
{"data":{"name":"boxB"},"mark":{"type":"rule","color":"black","strokeWidth":1,"strokeDash":[4,4]},
"encoding":{"y":{"field":"q3","type":"quantitative","scale":{"domain":[-0.5,12.64],"nice":false,"zero":false},
"axis":{"values":[0,2,4,6,8,10,12],"labelAngle":-90,"labelAlign":"center","labelBaseline":"alphabetic","labelPadding":12,"tickSize":10,"title":null}},"y2":{"field":"hi"}}},
{"data":{"name":"boxB"},"mark":{"type":"rule","color":"black","strokeWidth":1,"strokeDash":[4,4]},
"encoding":{"y":{"field":"lo","type":"quantitative","scale":{"domain":[-0.5,12.64],"nice":false,"zero":false},
"axis":{"values":[0,2,4,6,8,10,12],"labelAngle":-90,"labelAlign":"center","labelBaseline":"alphabetic","labelPadding":12,"tickSize":10,"title":null}},"y2":{"field":"q1"}}},
{"data":{"name":"boxB"},"mark":{"type":"tick","orient":"horizontal","size":6.5,"thickness":1,"color":"black"},
"encoding":{"y":{"field":"lo","type":"quantitative","scale":{"domain":[-0.5,12.64],"nice":false,"zero":false},
"axis":{"values":[0,2,4,6,8,10,12],"labelAngle":-90,"labelAlign":"center","labelBaseline":"alphabetic","labelPadding":12,"tickSize":10,"title":null}}}},
{"data":{"name":"boxB"},"mark":{"type":"tick","orient":"horizontal","size":6.5,"thickness":1,"color":"black"},
"encoding":{"y":{"field":"hi","type":"quantitative","scale":{"domain":[-0.5,12.64],"nice":false,"zero":false},
"axis":{"values":[0,2,4,6,8,10,12],"labelAngle":-90,"labelAlign":"center","labelBaseline":"alphabetic","labelPadding":12,"tickSize":10,"title":null}}}},
{"data":{"name":"boxB"},"mark":{"type":"bar","size":13,"stroke":"#222","strokeWidth":1},
"encoding":{"y":{"field":"q1","type":"quantitative","scale":{"domain":[-0.5,12.64],"nice":false,"zero":false},
"axis":{"values":[0,2,4,6,8,10,12],"labelAngle":-90,"labelAlign":"center","labelBaseline":"alphabetic","labelPadding":12,"tickSize":10,"title":null}},
"y2":{"field":"q3"},
"color":{"field":"s","type":"nominal","scale":{"domain":["ALL","LAGM","PIOB","PISI","PISY"],"range":["#0000FF","#228B22","#FFA500","#FF6347","#A52A2A"]},"legend":null}}},
{"data":{"name":"boxB"},"mark":{"type":"tick","orient":"horizontal","size":13,"thickness":3,"color":"black"},
"encoding":{"y":{"field":"md","type":"quantitative","scale":{"domain":[-0.5,12.64],"nice":false,"zero":false},
"axis":{"values":[0,2,4,6,8,10,12],"labelAngle":-90,"labelAlign":"center","labelBaseline":"alphabetic","labelPadding":12,"tickSize":10,"title":null}}}},
{"data":{"name":"outB"},"mark":{"type":"point","shape":"circle","filled":false,"size":42,"stroke":"black","strokeWidth":1,"opacity":1},
"encoding":{"y":{"field":"v","type":"quantitative","scale":{"domain":[-0.5,12.64],"nice":false,"zero":false},
"axis":{"values":[0,2,4,6,8,10,12],"labelAngle":-90,"labelAlign":"center","labelBaseline":"alphabetic","labelPadding":12,"tickSize":10,"title":null}}}}
]
}
]
}
